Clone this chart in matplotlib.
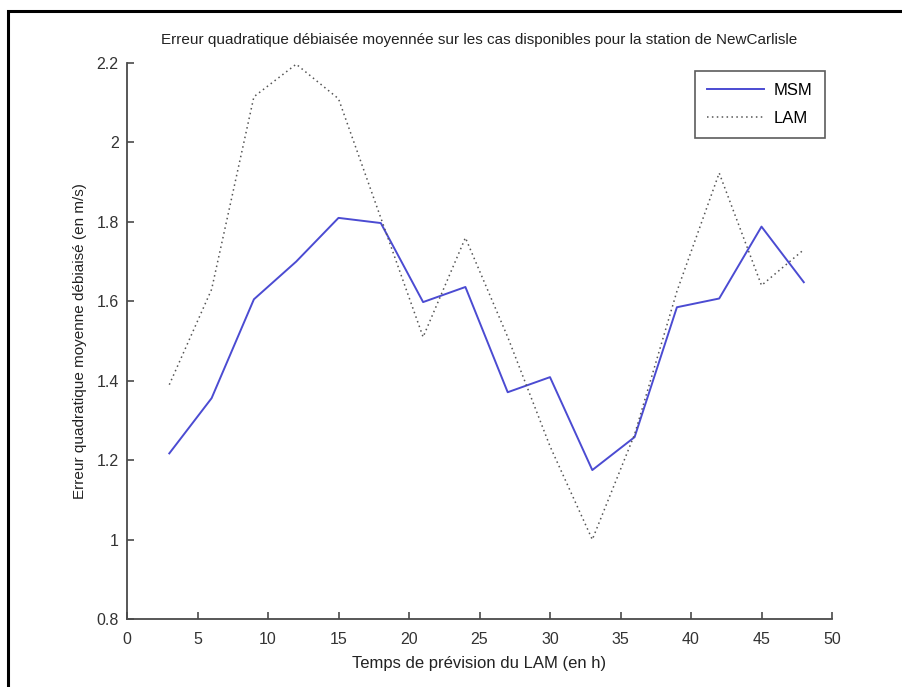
import matplotlib
matplotlib.use("Agg")
import matplotlib.pyplot as plt
from matplotlib.patches import Rectangle

hours = [3, 6, 9, 12, 15, 18, 21, 24, 27, 30, 33, 36, 39, 42, 45, 48]
msm = [1.217, 1.356, 1.605, 1.70, 1.81, 1.797, 1.598, 1.636, 1.371, 1.409,
       1.175, 1.258, 1.585, 1.607, 1.788, 1.648]
lam = [1.39, 1.63, 2.115, 2.197, 2.11, 1.81, 1.51, 1.76, 1.51, 1.235,
       1.00, 1.265, 1.625, 1.923, 1.64, 1.73]
labels = ["MSM", "LAM"]
title = "Erreur quadratique débiaisée moyennée sur les cas disponibles pour la station de NewCarlisle"
xlabel = "Temps de prévision du LAM (en h)"
ylabel = "Erreur quadratique moyenne débiaisé (en m/s)"

plt.rcParams['font.family'] = ['Liberation Sans', 'DejaVu Sans']
W, H = 902, 687
fig = plt.figure(figsize=(W / 100, H / 100), dpi=100)
fig.patches.append(Rectangle((8 / W, -0.2), 1.2, 1.2 - 11 / H, transform=fig.transFigure,
                             fill=False, edgecolor='black', linewidth=2.2))

ax = fig.add_axes([127 / W, 1 - 619 / H, (832 - 127) / W, (619 - 63) / H])
ax.plot(hours, msm, color='#4b4bd2', linewidth=1.4, label=labels[0])
ax.plot(hours, lam, color='#555555', linewidth=1.1, linestyle=(0, (1, 2.2)), label=labels[1])

ax.set_xlim(0, 50)
ax.set_ylim(0.8, 2.2)
ax.set_xticks(range(0, 51, 5))
ax.set_yticks([0.8, 1.0, 1.2, 1.4, 1.6, 1.8, 2.0, 2.2])
ax.set_yticklabels(["0.8", "1", "1.2", "1.4", "1.6", "1.8", "2", "2.2"])
for s in ['top', 'right']:
    ax.spines[s].set_visible(False)
for s in ['left', 'bottom']:
    ax.spines[s].set_color('#4a4a4a')
    ax.spines[s].set_linewidth(1.3)
ax.tick_params(direction='in', length=5, width=1.2, color='#4a4a4a',
               labelsize=11.5, labelcolor='#333333')
ax.tick_params(axis='x', pad=9)
ax.tick_params(axis='y', pad=6)
ax.set_title(title, fontsize=11, color='#222222', pad=14)
ax.set_xlabel(xlabel, fontsize=12, color='#222222', labelpad=7)
ax.set_ylabel(ylabel, fontsize=11, color='#222222', labelpad=7)

leg = ax.legend(loc='upper right', bbox_to_anchor=(0.990, 0.986), borderaxespad=0,
                fontsize=12, frameon=True, fancybox=False, handlelength=3.4,
                borderpad=0.75, labelspacing=0.75, handletextpad=0.6)
leg.get_frame().set_edgecolor('#333333')
leg.get_frame().set_linewidth(1.2)

fig.savefig("out.png", dpi=100)
